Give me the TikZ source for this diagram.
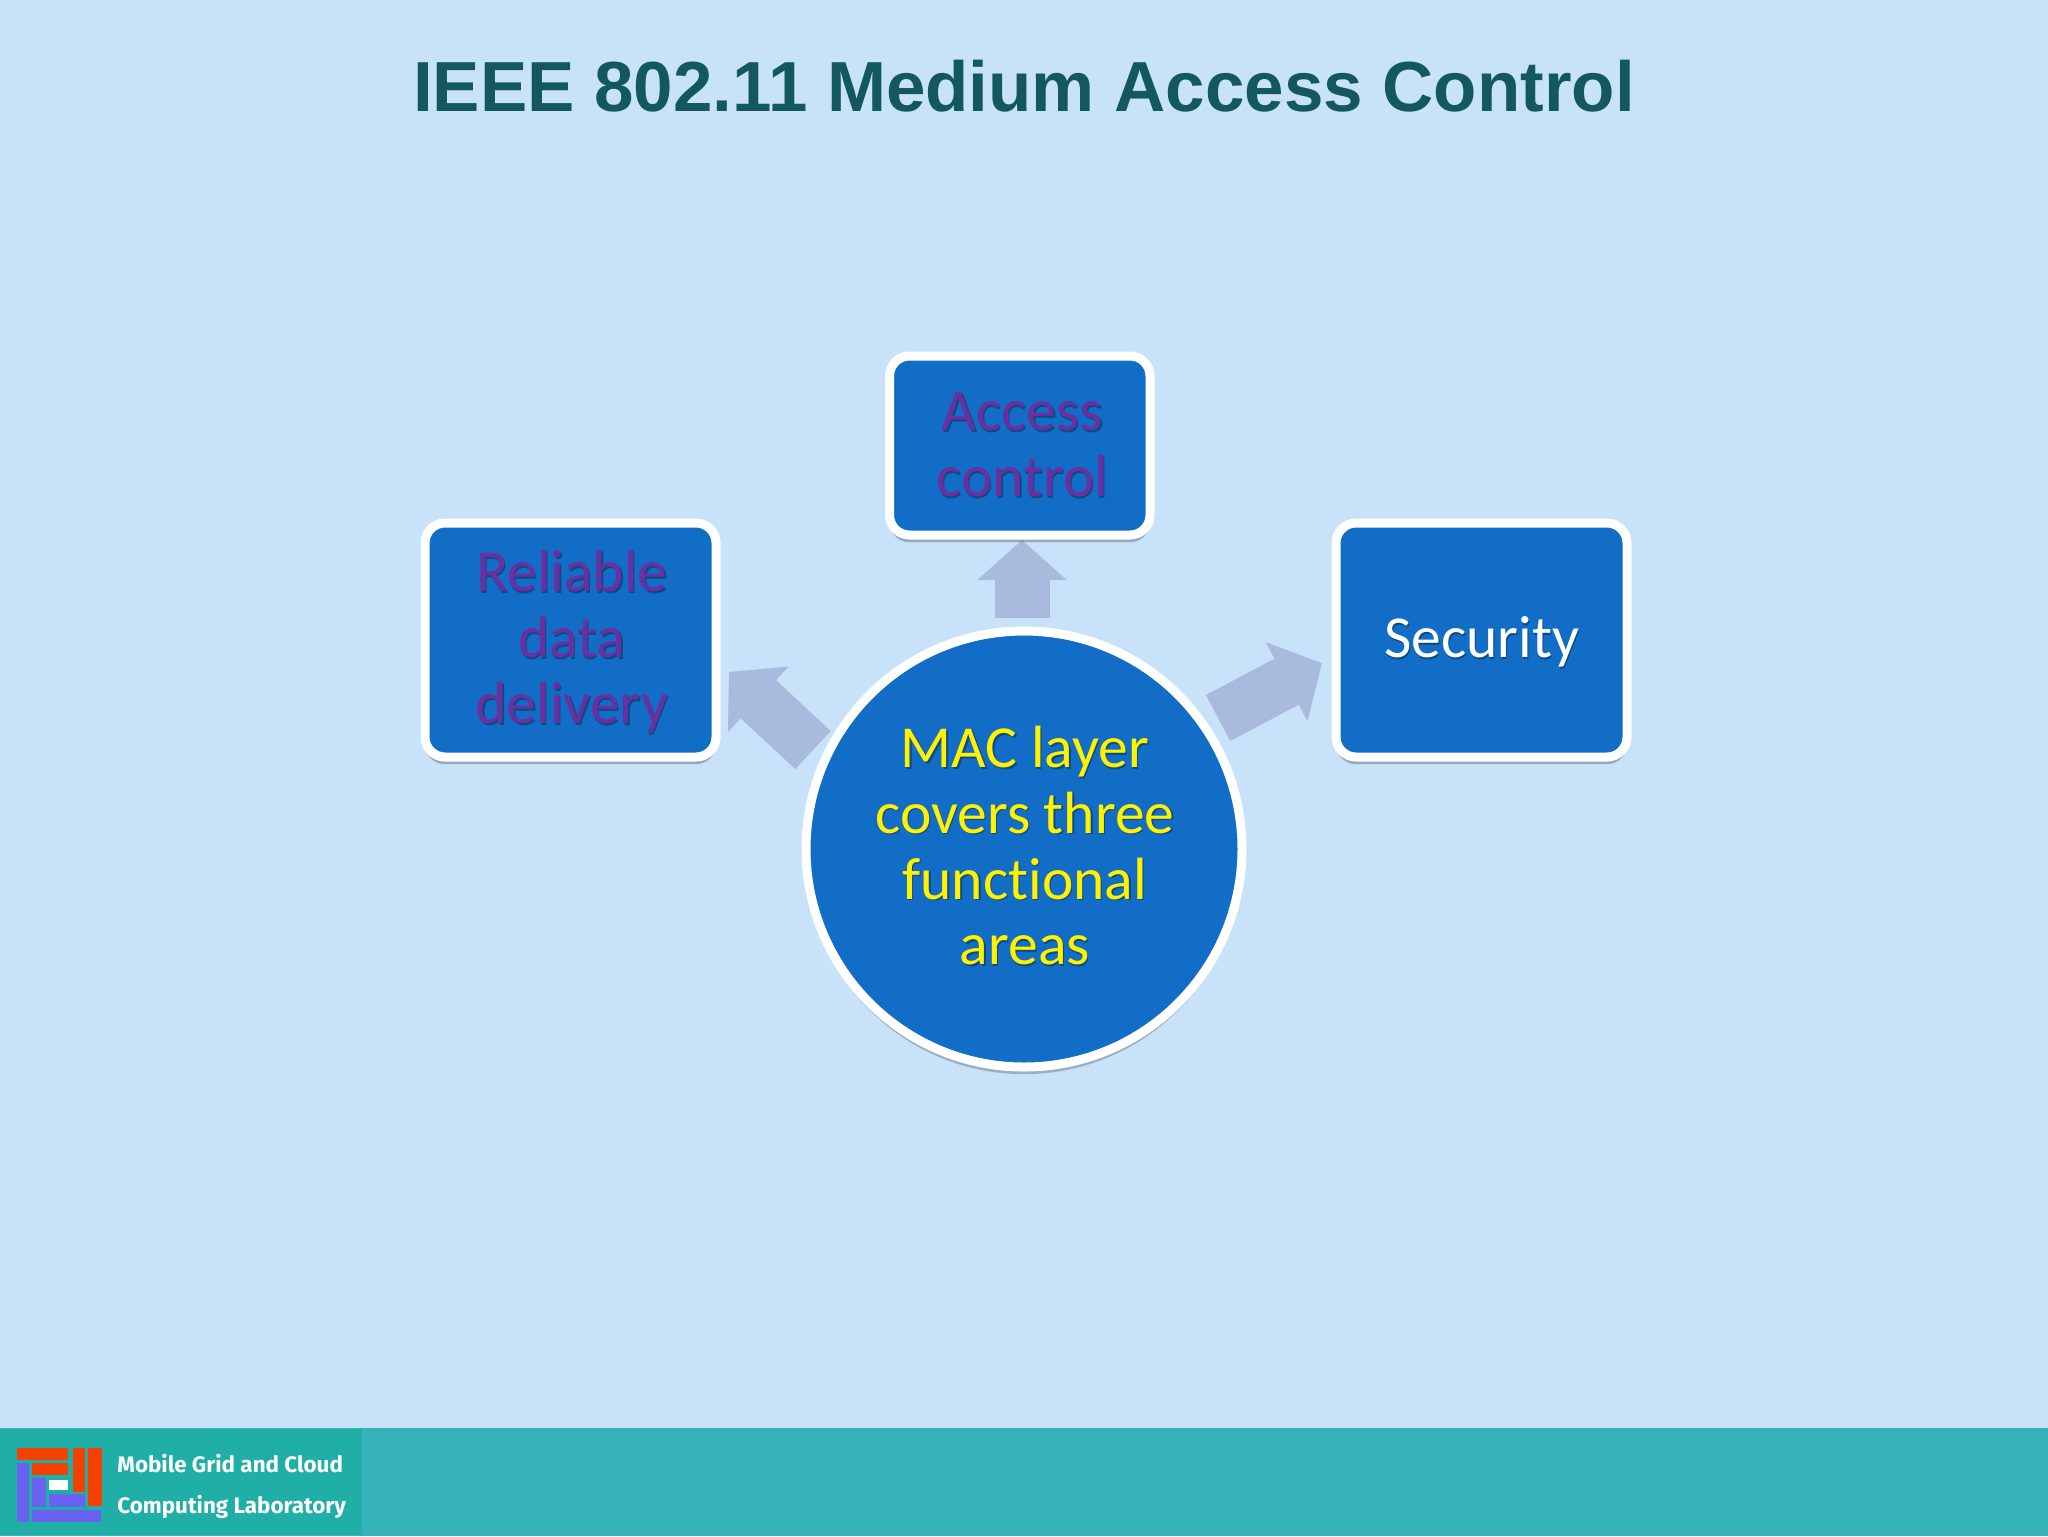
\documentclass[tikz,border=0pt]{standalone}
\usepackage{fontspec}
\setmainfont{Carlito}[Ligatures=NoCommon]
\newfontfamily\titlefont{Liberation Sans}
\newfontfamily\logofont{Fira Sans}
\usetikzlibrary{arrows.meta,shadows,calc}
\definecolor{bgc}{HTML}{C7E2F9}
\definecolor{boxc}{HTML}{116DC6}
\definecolor{arrowc}{HTML}{A9BBDC}
\definecolor{titlec}{HTML}{13585F}
\definecolor{purpc}{HTML}{6B2FA0}
\definecolor{footc}{HTML}{36B3B8}
\definecolor{logoc}{HTML}{20AFA6}
\definecolor{redc}{HTML}{F54100}
\definecolor{bluec}{HTML}{6A62F0}
\definecolor{tshadow}{HTML}{0B4A86}
\newcommand{\st}[1]{\leavevmode\rlap{\kern0.7pt\raisebox{-0.7pt}{\textcolor{tshadow}{#1}}}#1}
\newcommand{\sa}[1]{\leavevmode\kern2.6pt\st{#1}}
\newcommand{\sd}[1]{\leavevmode\kern1.3pt\raisebox{-1.3pt}[\height][\depth]{\st{#1}}}
\newcommand{\sdn}[1]{\raisebox{-1.3pt}[\height][\depth]{\st{#1}}}
\newcommand{\su}[1]{\leavevmode\kern0.8pt\raisebox{1.3pt}[\height][\depth]{\st{#1}}}
\tikzset{
  boxbase/.style={draw=white,line width=4.5pt,fill=boxc,rounded corners=10pt,align=center,inner sep=0pt,
    font=\fontsize{29.8}{33}\selectfont,
    drop shadow={shadow xshift=0pt,shadow yshift=-3.6pt,opacity=.25,fill=black}},
  widebox/.style={boxbase,minimum width=145.5pt,minimum height=117pt},
  topbox/.style={boxbase,minimum width=130.25pt,minimum height=89.5pt},
  hub/.style={circle,draw=white,line width=4.5pt,fill=boxc,minimum size=218pt,align=center,inner sep=0pt,
    font=\fontsize{29.8}{32.85}\selectfont,text=yellow,
    drop shadow={shadow xshift=0pt,shadow yshift=-3.6pt,opacity=.22,fill=black}},
  conn/.style={draw=arrowc,line width=26pt,-{Triangle[length=20pt,width=43.5pt,fill=arrowc]}},
  titlenode/.style={font=\titlefont\bfseries\fontsize{35.45}{42}\selectfont,text=titlec,anchor=base,inner sep=0pt},
  logotext/.style={font=\logofont\bfseries\fontsize{11.2}{13}\selectfont,text=white,anchor=base west,inner sep=0pt},
}
\begin{document}
\begin{tikzpicture}[x=0.5pt,y=-0.5pt]
\useasboundingbox (0,0) rectangle (2048,1536);
\fill[bgc] (0,0) rectangle (2048,1536);
% footer
\fill[footc] (0,1428) rectangle (2048,1536);
\fill[logoc] (0,1429) rectangle (362,1535);
% logo
\fill[redc] (17,1448) rectangle (68,1460);
\fill[redc] (32,1463) rectangle (68,1475);
\fill[redc] (73,1448) rectangle (85,1492);
\fill[redc] (88,1448) rectangle (102,1506);
\fill[bluec] (17,1463) rectangle (29,1522);
\fill[bluec] (32,1478) rectangle (46,1507);
\fill[bluec] (49,1494) rectangle (85,1507);
\fill[bluec] (32,1510) rectangle (101,1522);
\fill[white] (49,1480) rectangle (68,1490);
\node[logotext] (logoa) at (117,1472) {Mobile Grid and Cloud};
\node[logotext] (logob) at (117,1513) {Computing Laboratory};
% title
\node[titlenode] (title) at (1024,112) {IEEE 802.11 Medium Access Control};
% connector end points
\coordinate (upTail) at (1022,618);
\coordinate (upTip) at (1022,540);
\coordinate (leftTail) at (813,750);
\coordinate (leftTip) at (729,672);
\coordinate (rightTail) at (1218,718);
\coordinate (rightTip) at (1322,663);
\draw[conn,line width=27.5pt] (upTail) -- (upTip);
\draw[conn] (leftTail) -- (leftTip);
\draw[conn] (rightTail) -- (rightTip);
% nodes
\node[topbox,text=purpc] (access) at (1019.75,445.5) {\sa{Access}\\\sa{control}};
\node[widebox,text=purpc] (reliable) at (570.5,640) {\sd{Reliable}\\\sd{data}\\\sd{delivery}};
\node[widebox,text=white] (security) at (1481.5,640) {\sdn{Security}};
\node[hub] (mac) at (1024,849) {\su{MAC layer}\\\su{covers three}\\\su{functional}\\\su{areas}};
\end{tikzpicture}
\end{document}
